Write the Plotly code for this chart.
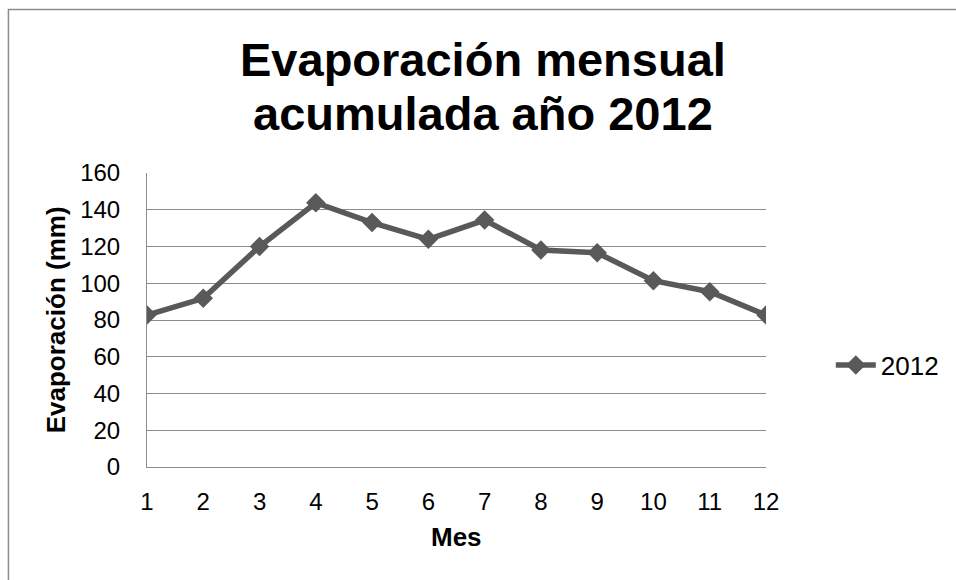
import plotly.graph_objects as go

months = [1, 2, 3, 4, 5, 6, 7, 8, 9, 10, 11, 12]
evap_2012 = [82.7, 91.8, 120.0, 143.8, 133.0, 123.9, 134.4, 118.1, 116.6, 101.4, 95.4, 82.7]
series_name = "2012"
y_ticks = [0, 20, 40, 60, 80, 100, 120, 140, 160]
title_lines = ["Evaporación mensual", "acumulada año 2012"]
x_title = "Mes"
y_title = "Evaporación (mm)"

W, H = 956, 580
L, R, T, B = 147, 188, 173, 113
pw, ph = W - L - R, H - T - B

def px(x):
    return (x - L) / pw

def py(y):
    return (H - B - y) / ph

FONT = "Liberation Sans, Arial, sans-serif"
LINE = "#595959"
GRID = "#8c8c8c"
CLEAR = "rgba(0,0,0,0)"

fig = go.Figure()
fig.add_trace(go.Scatter(
    x=months, y=evap_2012, name=series_name, mode="lines+markers",
    line=dict(color=LINE, width=5.5),
    marker=dict(symbol="diamond", size=15, color=LINE),
))

fig.update_layout(
    width=W, height=H,
    margin=dict(l=L, r=R, t=T, b=B, pad=0),
    paper_bgcolor="white", plot_bgcolor="white",
    font=dict(family=FONT, color="black", size=24),
    showlegend=True,
    legend=dict(x=px(833), y=py(365), xanchor="left", yanchor="middle",
                font=dict(size=26), bgcolor=CLEAR, itemwidth=40),
    xaxis=dict(range=[1, 12], tickmode="array", tickvals=months,
               ticktext=[str(m) for m in months],
               showgrid=False, zeroline=False, showline=True,
               linecolor=GRID, linewidth=1,
               ticks="outside", ticklen=13, tickcolor=CLEAR,
               tickfont=dict(size=24)),
    yaxis=dict(range=[0, 160], tickmode="array", tickvals=y_ticks,
               showgrid=True, gridcolor=GRID, gridwidth=1,
               zeroline=False, showline=True, linecolor=GRID, linewidth=1,
               ticks="outside", ticklen=21, tickcolor=CLEAR,
               tickfont=dict(size=24)),
)

# outer chart border (extends past the right and bottom edges)
fig.add_shape(type="rect", xref="paper", yref="paper",
              x0=px(8), x1=px(975), y0=py(600), y1=py(9.5),
              line=dict(color="#8c8c8c", width=1.5), fillcolor=CLEAR,
              layer="below")

title_x = px(484)
fig.add_annotation(text=title_lines[0], xref="paper", yref="paper",
                   x=title_x, y=py(60), xanchor="center", yanchor="middle",
                   showarrow=False, font=dict(size=47, family=FONT, color="black", weight="bold"))
fig.add_annotation(text=title_lines[1], xref="paper", yref="paper",
                   x=title_x, y=py(113), xanchor="center", yanchor="middle",
                   showarrow=False, font=dict(size=47, family=FONT, color="black", weight="bold"))
fig.add_annotation(text=x_title, xref="paper", yref="paper",
                   x=px(457.5), y=py(537), xanchor="center", yanchor="middle",
                   showarrow=False, font=dict(size=26, family=FONT, color="black", weight="bold"))
fig.add_annotation(text=y_title, xref="paper", yref="paper",
                   x=px(56), y=py(320), xanchor="center", yanchor="middle", textangle=-90,
                   showarrow=False, font=dict(size=26, family=FONT, color="black", weight="bold"))

fig.write_html("out.html")
